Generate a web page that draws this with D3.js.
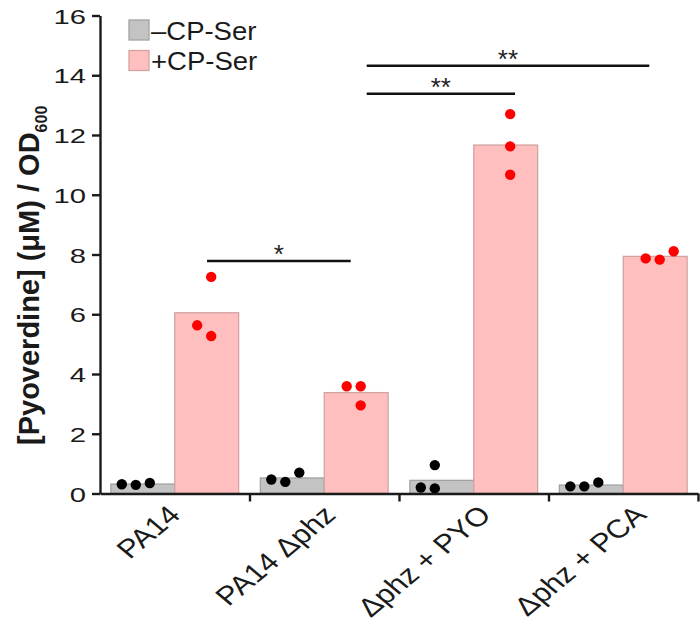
<!DOCTYPE html>
<html>
<head>
<meta charset="utf-8">
<script src="https://cdn.jsdelivr.net/npm/d3@7"></script>
<style>
  html, body { margin: 0; padding: 0; background: #fff; }
  svg { display: block; font-family: "Liberation Sans", Arial, sans-serif; }
</style>
</head>
<body>
<svg id="chart" width="700" height="626"></svg>
<script>
// ---------------- data ----------------
const categories = ["PA14", "PA14 \u0394phz", "\u0394phz + PYO", "\u0394phz + PCA"];
const series = ["\u2013CP-Ser", "+CP-Ser"];
// individual replicate values (μM / OD600)
const minusCPSer = [[0.31, 0.29, 0.35], [0.47, 0.39, 0.70], [0.20, 0.17, 0.95], [0.24, 0.24, 0.37]];
const plusCPSer  = [[7.25, 5.63, 5.27], [3.59, 3.59, 2.95], [12.70, 11.62, 10.67], [7.87, 7.83, 8.11]];
// jitter slot of each replicate dot (0 = left, 1 = middle, 2 = right)
const minusSlots = [[0, 1, 2], [0, 1, 2], [0, 1, 1], [0, 1, 2]];
const plusSlots  = [[1, 0, 1], [0, 1, 1], [1, 1, 1], [0, 1, 2]];
const yTicks = [0, 2, 4, 6, 8, 10, 12, 14, 16];
// significance brackets: span in category units (0..4), height in data units
const sigFrom  = [0.716, 1.784, 1.784];
const sigTo    = [1.677, 2.776, 3.674];
const sigY     = [7.78, 13.38, 14.32];
const sigLabel = ["*", "**", "**"];

// ---------------- layout ----------------
const svg = d3.select("#chart");
const X0 = 100, X1 = 698, Y0 = 493.5, Y1 = 15.5;
const STRETCH = 1.39;
const colors = { fill: ["#c3c3c3", "#ffbfbf"], stroke: ["#a3a3a3", "#d2a3a3"], dot: ["#000000", "#ff0000"] };

const y = d3.scaleLinear().domain([0, 16]).range([Y0, Y1]);
const x = d3.scaleBand().domain(categories).range([X0, X1]).paddingInner(0).paddingOuter(0);
const xs = d3.scaleBand().domain(series).range([0, x.bandwidth()]).paddingInner(0).paddingOuter(0.17);
const pos = d3.scaleLinear().domain([0, categories.length]).range([X0, X1]);
// label anchors (end of each rotated label) are spread slightly wider than the bars
const xLabel = d3.scalePoint().domain(categories).range([182, 648]);

const seriesData = [minusCPSer, plusCPSer];
const slotData = [minusSlots, plusSlots];

// bars (mean of replicates)
series.forEach((s, si) => {
  svg.append("g").selectAll("rect")
    .data(categories.map((c, ci) => ({ c, v: d3.mean(seriesData[si][ci]) })))
    .join("rect")
    .attr("x", d => x(d.c) + xs(s))
    .attr("width", xs.bandwidth())
    .attr("y", d => y(d.v))
    .attr("height", d => y(0) - y(d.v))
    .attr("fill", colors.fill[si])
    .attr("stroke", colors.stroke[si])
    .attr("stroke-width", 1.3);
});

// dots
const dotShift = [-7, 4.5], slotStep = 14;
series.forEach((s, si) => {
  const pts = [];
  categories.forEach((c, ci) => {
    seriesData[si][ci].forEach((v, k) => pts.push({ c, v, slot: slotData[si][ci][k] }));
  });
  svg.append("g").selectAll("circle")
    .data(pts)
    .join("circle")
    .attr("cx", d => x(d.c) + xs(s) + xs.bandwidth() / 2 + dotShift[si] + (d.slot - 1) * slotStep)
    .attr("cy", d => y(d.v))
    .attr("r", 5.2)
    .attr("fill", colors.dot[si]);
});

// y axis
const yAxis = svg.append("g")
  .attr("transform", `translate(${X0},0)`)
  .call(d3.axisLeft(y).tickValues(yTicks).tickSize(8).tickSizeOuter(0).tickFormat(d3.format("d")));
yAxis.select(".domain").attr("stroke", "#1a1a1a").attr("stroke-width", 2.4);
yAxis.selectAll(".tick line").attr("stroke", "#1a1a1a").attr("stroke-width", 2.4);
yAxis.selectAll(".tick text")
  .attr("x", null).attr("dy", null)
  .attr("transform", `translate(-14,7.5) scale(${STRETCH},1)`)
  .attr("text-anchor", "end")
  .attr("fill", "#1a1a1a")
  .style("font-size", "21px").style("font-family", "Liberation Sans, Arial, sans-serif");

// x axis
const xAxis = svg.append("g")
  .attr("transform", `translate(0,${Y0})`)
  .call(d3.axisBottom(pos).tickValues(d3.range(1, categories.length + 1)).tickSize(8).tickSizeOuter(0).tickFormat(""));
xAxis.select(".domain").attr("stroke", "#1a1a1a").attr("stroke-width", 2.4);
xAxis.selectAll(".tick line").attr("stroke", "#1a1a1a").attr("stroke-width", 2.4);

// x labels
svg.append("g").selectAll("text")
  .data(categories)
  .join("text")
  .attr("transform", d => `translate(${xLabel(d)},516.5) scale(1.2,1) rotate(-45)`)
  .attr("text-anchor", "end")
  .attr("fill", "#1a1a1a")
  .style("font-size", "26px")
  .text(d => d);

// y title
const yt = svg.append("text")
  .attr("transform", "translate(39,445) rotate(-90)")
  .attr("text-anchor", "start")
  .attr("fill", "#1a1a1a")
  .style("font-size", "29px").style("font-weight", "bold");
yt.append("tspan").text("[Pyoverdine] (\u03bcM) / OD");
yt.append("tspan").attr("dy", 8).style("font-size", "16px").text("600");

// significance brackets
const sig = sigLabel.map((l, i) => ({ l, a: sigFrom[i], b: sigTo[i], v: sigY[i] }));
svg.append("g").selectAll("line")
  .data(sig).join("line")
  .attr("x1", d => pos(d.a)).attr("x2", d => pos(d.b))
  .attr("y1", d => y(d.v)).attr("y2", d => y(d.v))
  .attr("stroke", "#111").attr("stroke-width", 2.4);
svg.append("g").selectAll("text")
  .data(sig).join("text")
  .attr("x", d => (pos(d.a) + pos(d.b)) / 2)
  .attr("y", d => y(d.v) + 2)
  .attr("text-anchor", "middle")
  .attr("fill", "#222")
  .style("font-size", "26px")
  .text(d => d.l);

// legend
const leg = svg.append("g").attr("transform", "translate(129,20)");
series.forEach((s, i) => {
  const g = leg.append("g").attr("transform", `translate(0,${i * 30.5})`);
  g.append("rect").attr("width", 20).attr("height", 20)
    .attr("fill", colors.fill[i]).attr("stroke", colors.stroke[i]).attr("stroke-width", 1.3);
  g.append("text").attr("transform", "translate(22,19.5) scale(1.1,1)")
    .attr("fill", "#1a1a1a").style("font-size", "25px").text(s);
});
</script>
</body>
</html>
